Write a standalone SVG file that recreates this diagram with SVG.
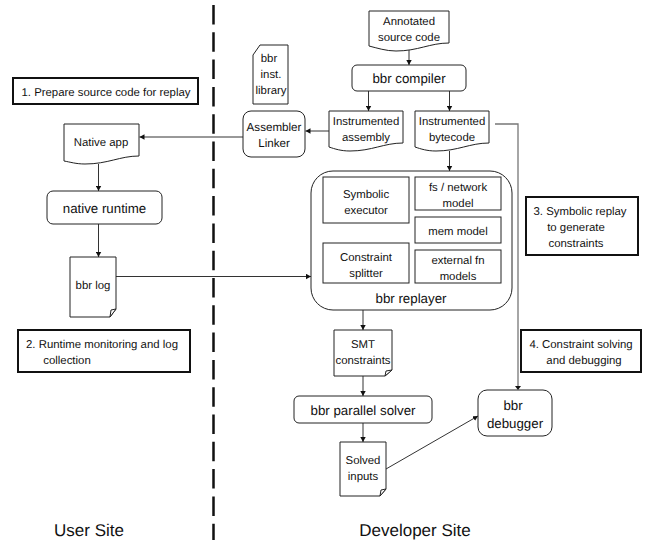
<svg xmlns="http://www.w3.org/2000/svg" width="649" height="540" viewBox="0 0 649 540">
<style>
text{font-family:"Liberation Sans",Arial,sans-serif;font-size:11.400px;fill:#111;text-anchor:middle;text-rendering:geometricPrecision}
.s{fill:#fff;stroke:#222;stroke-width:1}
.k{fill:#fff;stroke:#111;stroke-width:2}
.c{fill:none;stroke:#333;stroke-width:1}
.g{fill:none;stroke:#777;stroke-width:1.300}
.m{font-size:13.300px}
.n{font-size:11.600px}
.l{font-size:17px}
</style>
<defs>
<marker id="a" markerUnits="userSpaceOnUse" markerWidth="6" markerHeight="6" refX="5" refY="3" orient="auto"><path d="M0 0.300L5 3L0 5.700Z" fill="#111"/></marker>
</defs>
<rect width="649" height="540" fill="#fff"/>
<path d="M213.500 5V540" fill="none" stroke="#111" stroke-width="2.500" stroke-dasharray="19.500 7.800"/>
<g id="connectors">
<path class="c" d="M243 137H139.500" marker-end="url(#a)"/>
<path class="c" d="M329 131H305.500" marker-end="url(#a)"/>
<path class="c" d="M98.500 164V191" marker-end="url(#a)"/>
<path class="c" d="M98.500 223V257" marker-end="url(#a)"/>
<path class="c" d="M409 50V65" marker-end="url(#a)"/>
<path class="c" d="M368.500 91V111" marker-end="url(#a)"/>
<path class="c" d="M449.500 91V111" marker-end="url(#a)"/>
<path class="c" d="M449.500 151V171" marker-end="url(#a)"/>
<path class="c" d="M116 276.500H311" marker-end="url(#a)"/>
<path class="c" d="M363 310V330" marker-end="url(#a)"/>
<path class="c" d="M363 376V396" marker-end="url(#a)"/>
<path class="c" d="M363 423V442" marker-end="url(#a)"/>
<path class="c" d="M386 469L478 416" marker-end="url(#a)"/>
<path class="g" d="M495 124H518V386"/>
<path d="M515 386H521L518 390Z" fill="#111"/>
</g>
<g id="step1"><rect class="k" x="13" y="78" width="185" height="26"/><text x="106" y="96">1. Prepare source code for replay</text></g>
<g id="native-app"><path class="s" d="M64 124H139V156C120 156 108 164 85 164C76 164 70 162 64 161Z"/><text x="101" y="146">Native app</text></g>
<g id="native-runtime"><rect class="s" x="47" y="191" width="115" height="33" rx="6"/><text class="m" x="104.500" y="213">native runtime</text></g>
<g id="bbr-log"><path class="s" d="M70 257H116V309L110 317H70Z"/><path class="s" d="M116 309L110 317L111 310Z"/><text x="93" y="289">bbr log</text></g>
<g id="step2"><rect class="k" x="18" y="330" width="172" height="42"/><text x="102" y="348">2. Runtime monitoring and log</text><text x="67" y="364">collection</text></g>
<g id="user-site"><text class="l" x="89" y="536">User Site</text></g>
<g id="inst-library"><path class="s" d="M260 45H288V104H253V55Z"/><text x="269" y="62">bbr</text><text x="271" y="78">inst.</text><text x="271" y="94">library</text></g>
<g id="assembler"><rect class="s" x="243" y="111" width="62" height="46" rx="8"/><text x="274" y="131" class="n">Assembler</text><text x="274" y="147" class="n">Linker</text></g>
<g id="annotated"><path class="s" d="M369 11H449V43C430 43 418 51 396 51C386 51 377 48 369 46Z"/><text x="409" y="25">Annotated</text><text x="409" y="41">source code</text></g>
<g id="compiler"><rect class="s" x="352" y="65" width="114" height="26" rx="5"/><text class="m" x="409" y="83">bbr compiler</text></g>
<g id="assembly"><path class="s" d="M329 111H403V143C384 143 372 151 350 151C341 151 335 149 329 147Z"/><text x="366" y="125">Instrumented</text><text x="366" y="141">assembly</text></g>
<g id="bytecode"><path class="s" d="M415 111H489V143C470 143 458 151 436 151C427 151 421 149 415 147Z"/><text x="452" y="125">Instrumented</text><text x="452" y="141">bytecode</text></g>
<g id="replayer"><rect class="s" x="311" y="171" width="201" height="139" rx="22"/><text class="m" x="411" y="303">bbr replayer</text></g>
<g id="symbolic"><rect class="s" x="323" y="177" width="86" height="46"/><text x="366" y="198">Symbolic</text><text x="366" y="214">executor</text></g>
<g id="fs"><rect class="s" x="415" y="177" width="86" height="33"/><text x="458" y="191">fs / network</text><text x="458" y="207">model</text></g>
<g id="mem"><rect class="s" x="415" y="217" width="86" height="26"/><text x="458" y="235">mem model</text></g>
<g id="splitter"><rect class="s" x="323" y="243" width="86" height="40"/><text x="366" y="261">Constraint</text><text x="366" y="277">splitter</text></g>
<g id="external"><rect class="s" x="415" y="250" width="86" height="33"/><text x="458" y="264">external fn</text><text x="458" y="280">models</text></g>
<g id="step3"><rect class="k" x="526" y="197" width="112" height="58"/><text x="580" y="215">3. Symbolic replay</text><text x="576" y="231">to generate</text><text x="576" y="247">constraints</text></g>
<g id="smt"><path class="s" d="M334 330H392V370L385 376H334Z"/><path class="s" d="M392 370L385 376L386 371Z"/><text x="363" y="348">SMT</text><text x="363" y="364">constraints</text></g>
<g id="step4"><rect class="k" x="521" y="330" width="120" height="42"/><text x="581" y="348">4. Constraint solving</text><text x="584" y="364">and debugging</text></g>
<g id="solver"><rect class="s" x="294" y="396" width="138" height="27" rx="5"/><text class="m" x="363" y="415">bbr parallel solver</text></g>
<g id="solved"><path class="s" d="M340 442H386V489L380 496H340Z"/><path class="s" d="M386 489L380 496L381 490Z"/><text x="363" y="464">Solved</text><text x="363" y="480">inputs</text></g>
<g id="debugger"><rect class="s" x="478" y="390" width="74" height="46" rx="9"/><text class="m" x="513" y="410">bbr</text><text class="m" x="515" y="428">debugger</text></g>
<g id="developer-site"><text class="l" x="415" y="536">Developer Site</text></g>
</svg>
